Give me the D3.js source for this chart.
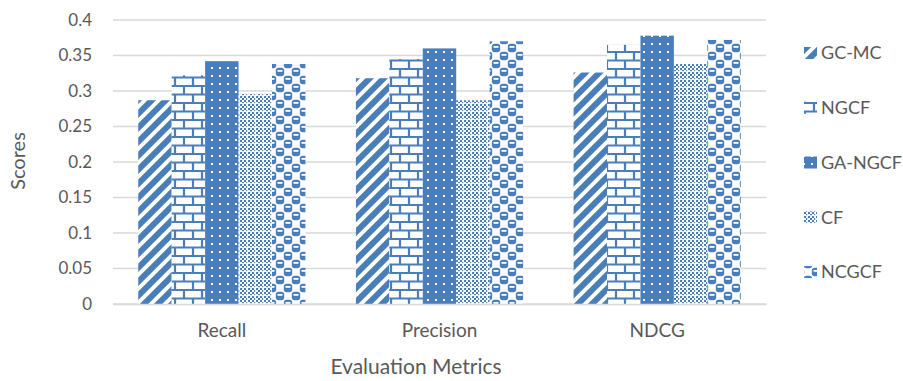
<!DOCTYPE html>
<html><head><meta charset="utf-8">
<script src="https://cdn.jsdelivr.net/npm/d3@7"></script>
<style>body{margin:0;background:#fff}svg{display:block}text{font-family:Lato,"Open Sans",sans-serif;fill:#595959}</style>
</head><body><svg id="c" width="903" height="381"></svg>
<script>
const categories = ["Recall", "Precision", "NDCG"];
const seriesNames = ["GC-MC", "NGCF", "GA-NGCF", "CF", "NCGCF"];
const gcmc   = [0.287, 0.318, 0.326];
const ngcf   = [0.322, 0.345, 0.365];
const gangcf = [0.342, 0.360, 0.378];
const cf     = [0.296, 0.287, 0.338];
const ncgcf  = [0.338, 0.370, 0.372];
const yTicks = [0, 0.05, 0.1, 0.15, 0.2, 0.25, 0.3, 0.35, 0.4];
const yTickLabels = ["0", "0.05", "0.1", "0.15", "0.2", "0.25", "0.3", "0.35", "0.4"];

const values = [gcmc, ngcf, gangcf, cf, ncgcf];
const blue = "#4A7EBB";
const svg = d3.select("#c");
const defs = svg.append("defs");

function pat(id, w, h, draw){
  const p = defs.append("pattern").attr("id", id).attr("patternUnits","userSpaceOnUse")
    .attr("width", w).attr("height", h);
  draw(p);
}
pat("p0", 14, 14, p => {
  p.append("rect").attr("width",14).attr("height",14).attr("fill","#fff");
  p.append("path").attr("d","M-4,18 L18,-4 M-18,18 L4,-4 M10,18 L32,-4").attr("stroke",blue).attr("stroke-width",6);
});
pat("p1", 18, 17, p => {
  p.append("rect").attr("width",18).attr("height",17).attr("fill","#fff");
  p.append("path").attr("d","M0,1 H18 M0,9.5 H18 M4,1 V9.5 M13,9.5 V17").attr("stroke",blue).attr("stroke-width",2.2).attr("fill","none");
});
pat("p2", 8, 8, p => {
  p.append("rect").attr("width",8).attr("height",8).attr("fill",blue);
  p.append("rect").attr("x",3).attr("y",3).attr("width",2).attr("height",2).attr("fill","#fff");
});
pat("p3", 8, 8, p => {
  p.append("rect").attr("width",8).attr("height",8).attr("fill","#fff");
  for (let i=0;i<4;i++) for (let j=0;j<4;j++) if ((i+j)%2===0)
    p.append("rect").attr("x",i*2).attr("y",j*2).attr("width",2).attr("height",2).attr("fill",blue);
  p.append("rect").attr("x",0).attr("y",7).attr("width",8).attr("height",1).attr("fill","#fff").attr("opacity",0.8);
  p.append("rect").attr("x",7).attr("y",0).attr("width",1).attr("height",8).attr("fill","#fff").attr("opacity",0.8);
});
pat("p4", 16, 16, p => {
  p.append("rect").attr("width",16).attr("height",16).attr("fill","#fff");
  [[0,0],[8,8],[16,0],[0,16],[16,16]].forEach(([cx,cy]) => {
    p.append("rect").attr("x",cx-4.2).attr("y",cy-4.2).attr("width",8.4).attr("height",8.4).attr("rx",3).attr("fill",blue);
  });
  [[8,8],[0,0],[16,0],[0,16],[16,16]].forEach(([cx,cy]) => {
    p.append("rect").attr("x",cx-2.5).attr("y",cy-2).attr("width",5).attr("height",1.8).attr("fill","#fff");
  });
});

const m = {l:113, r:766, t:20, b:304};
const x0 = d3.scaleBand().domain(categories).range([m.l, m.r]).paddingInner(0.232).paddingOuter(0.116);
const x1 = d3.scaleBand().domain(seriesNames).range([0, x0.bandwidth()]);
const y = d3.scaleLinear().domain([0, 0.4]).range([m.b, m.t]);

svg.append("g").selectAll("line").data(yTicks).join("line")
  .attr("x1", m.l).attr("x2", m.r).attr("y1", d=>y(d)).attr("y2", d=>y(d))
  .attr("stroke", "#d9d9d9").attr("stroke-width", 1.3);

const yAxis = d3.axisLeft(y).tickValues(yTicks).tickFormat((d,i)=>yTickLabels[i]).tickSize(0).tickPadding(21);
const ga = svg.append("g").attr("transform",`translate(${m.l},0)`).call(yAxis);
ga.select(".domain").remove();
ga.selectAll("text").attr("font-size",17).style("fill","#595959").style("font-family","Lato");

const g = svg.append("g");
categories.forEach((c, ci) => {
  seriesNames.forEach((s, si) => {
    const v = values[si][ci];
    g.append("rect").attr("x", x0(c) + x1(s)).attr("width", x1.bandwidth())
      .attr("y", y(v)).attr("height", y(0) - y(v)).attr("fill", `url(#p${si})`);
  });
});

const xAxis = d3.axisBottom(x0).tickSize(0).tickPadding(20);
const gx = svg.append("g").attr("transform",`translate(0,${m.b})`).call(xAxis);
gx.select(".domain").attr("stroke","#d9d9d9").attr("stroke-width",1.3);
gx.selectAll("text").attr("font-size",19).style("fill","#595959").style("font-family","Lato");

svg.append("text").attr("x", 416).attr("y", 374).attr("text-anchor","middle").attr("font-size",21).text("Evaluation Metrics");
svg.append("text").attr("transform","translate(25,161) rotate(-90)").attr("text-anchor","middle").attr("font-size",20).text("Scores");

const ly = d3.scalePoint().domain(seriesNames).range([53, 272]);
const lg = svg.append("g");
seriesNames.forEach((s, si) => {
  lg.append("rect").attr("x", 804).attr("y", ly(s)-6).attr("width", 13).attr("height", 12).attr("fill", `url(#p${si})`);
  lg.append("text").attr("x", 821).attr("y", ly(s)).attr("dy","0.35em").attr("font-size",18).text(s);
});
</script></body></html>
